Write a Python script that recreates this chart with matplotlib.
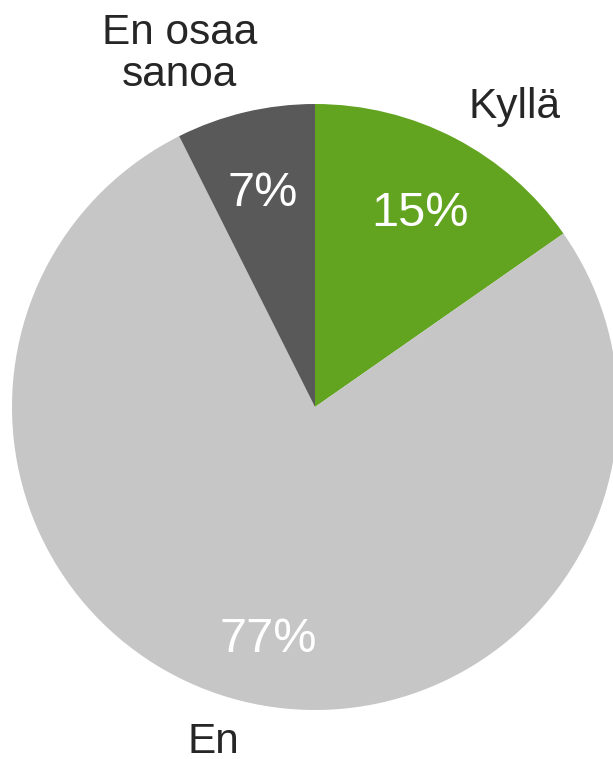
import matplotlib.pyplot as plt

plt.rcParams['font.family'] = ['Liberation Sans', 'DejaVu Sans']

# data
labels = ['Kyllä', 'En', 'En osaa\nsanoa']
values = [15.3, 77.3, 7.4]
pct_text = ['15%', '77%', '7%']
colors = ['#62A420', '#C6C6C6', '#595959']

fig = plt.figure(figsize=(6.13, 7.59), dpi=100)
ax = fig.add_axes([0, 0, 1, 1])

wedges, texts, autotexts = ax.pie(values, colors=colors, startangle=90, counterclock=False,
                                  labels=labels, labeldistance=1.2,
                                  autopct='%1.0f%%', pctdistance=0.74,
                                  textprops={'fontsize': 30.5, 'color': '#262626'})

# percent labels, nudged to sit like the original
pct_pos = [(0.347, 0.637), (-0.155, -0.766), (-0.172, 0.703)]
for t, p, (x, y) in zip(autotexts, pct_text, pct_pos):
    t.set_text(p)
    t.set_color('white')
    t.set_fontsize(35)
    t.set_position((x, y))

# label placement tweaks
label_pos = [(0.66, 0.99), (-0.337, -1.105), (-0.446, 1.165)]
for t, (x, y) in zip(texts, label_pos):
    t.set_position((x, y))
    t.set_ha('center')
    t.set_va('center')
    t.set_multialignment('center')
    t.set_linespacing(1.05)

ax.set_xlim(-315 / 303, (613 - 315) / 303)
ax.set_ylim(-(759 - 407) / 303, 407 / 303)
ax.set_aspect('auto')
ax.axis('off')

plt.savefig('out.png', dpi=100)
